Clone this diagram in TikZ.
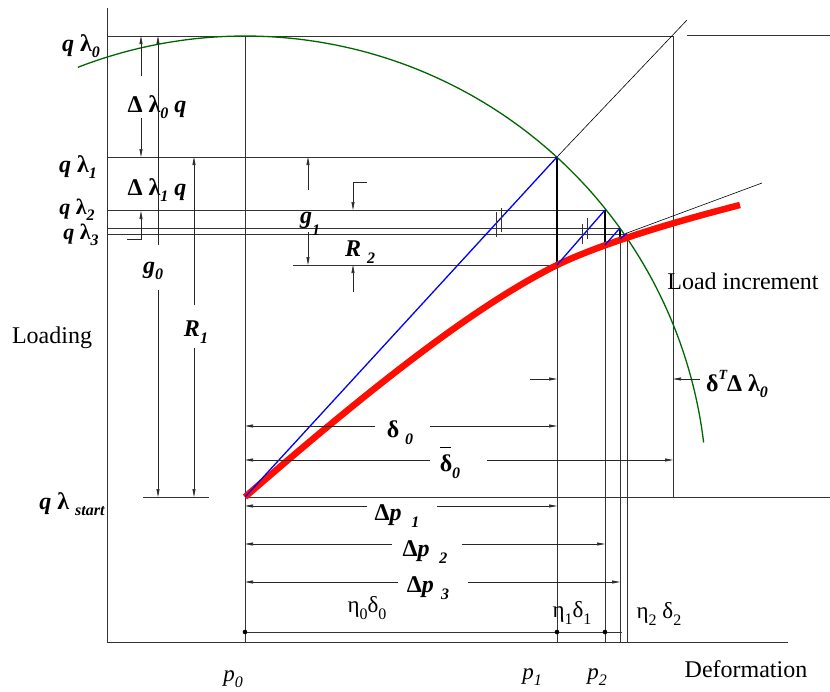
\documentclass[tikz,border=0pt]{standalone}
\usepackage{fontspec}
\setmainfont{Liberation Serif}
\usetikzlibrary{arrows.meta}
\newcommand{\dn}[1]{\raisebox{-0.28em}{\fontsize{16}{16}\selectfont #1}}
\newcommand{\upT}[1]{\raisebox{0.5em}{\fontsize{14}{14}\selectfont #1}}
\begin{document}
\begin{tikzpicture}[
  x=1pt,y=-1pt,
  >={Triangle[length=8pt,width=3pt]},
  ln/.style={line width=0.7pt,black!80},
  bold/.style={line width=1.4pt,black},
  dim/.style={->,line width=0.6pt,black!85},
  ring/.style={line width=1.3pt,green!40!black},
  blu/.style={line width=1.3pt,blue},
  redcurve/.style={line width=6.5pt,red!90!orange},
  bl/.style={font=\fontsize{24}{26}\selectfont\bfseries\itshape,inner sep=0pt},
  bls/.style={font=\fontsize{22}{24}\selectfont\bfseries\itshape,inner sep=0pt},
  rm/.style={font=\fontsize{23}{26}\selectfont,inner sep=0pt},
  txt/.style={font=\fontsize{24}{26}\selectfont,inner sep=0pt}
]
\useasboundingbox (0,0) rectangle (830,691);
\coordinate (O) at (245,497);
\coordinate (A1) at (557,157);
\coordinate (B1) at (557,265);
\coordinate (A2) at (605,210);
\coordinate (B2) at (605,245);
\coordinate (A3) at (620,228);
\coordinate (B3) at (620,239);
\coordinate (A4) at (627,233);
\draw[ln] (107,8) -- (107,642) -- (788,642);
\draw[ln] (107,36) -- (673,36) (687,35) -- (830,35);
\draw[ln] (107,157) -- (A1);
\draw[ln] (107,210) -- (A2);
\draw[ln] (107,228) -- (A3);
\draw[ln] (107,234) -- (627,234);
\draw[ln] (143,497) -- (209,497) (O) -- (830,497);
\draw[ln] (293,265) -- (B1);
\draw[ln] (245,36) -- (245,642);
\draw[ln] (A1) -- (557,642);
\draw[ln] (A2) -- (605,642);
\draw[ln] (A3) -- (620,642);
\draw[ln] (627,234) -- (627,642);
\draw[ln] (673,36) -- (673,497);
\draw[bold] (A1) -- (B1) (A2) -- (B2) (A3) -- (B3);
\draw[line width=0.6pt] (A1) -- (687,20);
\draw[line width=0.6pt] (A4) -- (762,183);
\draw[ring] plot[domain=6.9:111.2,samples=90,smooth] ({245+462*cos(\x)},{498-462*sin(\x)});
\draw[redcurve] (O) .. controls (400,362) and (490,298.5) .. (B1) .. controls (590,249) and (650,228) .. (740,205);
\draw[blu] (O) -- (A1);
\draw[blu] (B1) -- (A2);
\draw[blu] (B2) -- (A3);
\draw[blu] (B3) -- (A4);
\draw[ln] (496,212) -- (496,237) (501,208) -- (501,232);
\draw[ln] (582,224) -- (582,244) (587,218) -- (587,239);
\draw[dim] (141,76) -- (141,36);
\draw[dim] (141,118) -- (141,157);
\draw[dim] (127,239) -- (141,239) -- (141,211);
\draw[dim] (158,245) -- (158,36);
\draw[dim] (158,290) -- (158,497);
\draw[dim] (194,305) -- (194,157);
\draw[dim] (194,348) -- (194,497);
\draw[dim] (308,190) -- (308,157);
\draw[dim] (308,232) -- (308,265);
\draw[dim] (367,182) -- (353,182) -- (353,210);
\draw[dim] (353,292) -- (353,265);
\draw[dim] (530,379) -- (557,379);
\draw[dim] (700,379) -- (673,379);
\draw[dim] (375,426) -- (245,426);
\draw[dim] (430,426) -- (557,426);
\draw[dim] (430,460) -- (245,460);
\draw[dim] (487,460) -- (673,460);
\draw[dim] (367,506) -- (245,506);
\draw[dim] (437,506) -- (557,506);
\draw[dim] (392,544) -- (245,544);
\draw[dim] (462,544) -- (605,544);
\draw[dim] (398,582) -- (245,582);
\draw[dim] (468,582) -- (620,582);
\draw[ln] (245,632) -- (622,632);
\fill (245,632) circle (2.3) (557,632) circle (2.3) (605,632) circle (2.3);
\node[bl] (ql0) at (81,46) {q \textup{λ}\dn{0}};
\node[bl] (ql1) at (78,167) {q \textup{λ}\dn{1}};
\node[bls] (ql2) at (77,210) {q \textup{λ}\dn{2}};
\node[bls] (ql3) at (81,235) {q \textup{λ}\dn{3}};
\node[bl] (qls) at (72,504) {q \textup{λ} \dn{start}};
\node[bl] (dl0) at (157,107) {\textup{Δ λ}\dn{0} q};
\node[bl] (dl1) at (157,190) {\textup{Δ λ}\dn{1} q};
\node[bl] (g0) at (153,271) {g\dn{0}};
\node[bl] (r1) at (196,332) {R\dn{1}};
\node[bl] (g1) at (310,224) {g\raisebox{-0.2em}{\dn{1}}};
\node[bl] (r2) at (360,252) {R \dn{2}};
\node[bl] (d0) at (400,433) {\textup{δ} \dn{0}};
\node[bl] (db0) at (450,463) {\textup{\rlap{\raisebox{1.0em}{\rule{0.45em}{0.7pt}}}δ}\dn{0}};
\node[bl] (dp1) at (397,516) {\textup{Δ}p\hspace{0.4em}\dn{1}};
\node[bl] (dp2) at (425,552) {\textup{Δ}p\hspace{0.4em}\dn{2}};
\node[bl] (dp3) at (428,588) {\textup{Δ}p\hspace{0.3em}\dn{3}};
\node[bl] (dtl) at (737,384) {\textup{δ}\upT{T}\textup{Δ λ}\dn{0}};
\node[rm] (e0) at (367,608) {η\dn{0}δ\dn{0}};
\node[rm] (e1) at (572,613) {η\dn{1}δ\dn{1}};
\node[rm] (e2) at (659,614) {η\dn{2} δ\dn{2}};
\node[rm] (p0) at (233,679) {\itshape p\dn{0}};
\node[rm] (p1) at (532,677) {\itshape p\dn{1}};
\node[rm] (p2) at (597,677) {\itshape p\dn{2}};
\node[txt] (ld) at (52,338) {Loading};
\node[txt] (li) at (743,281) {Load increment};
\node[txt] (df) at (746,669) {Deformation};
\end{tikzpicture}
\end{document}
